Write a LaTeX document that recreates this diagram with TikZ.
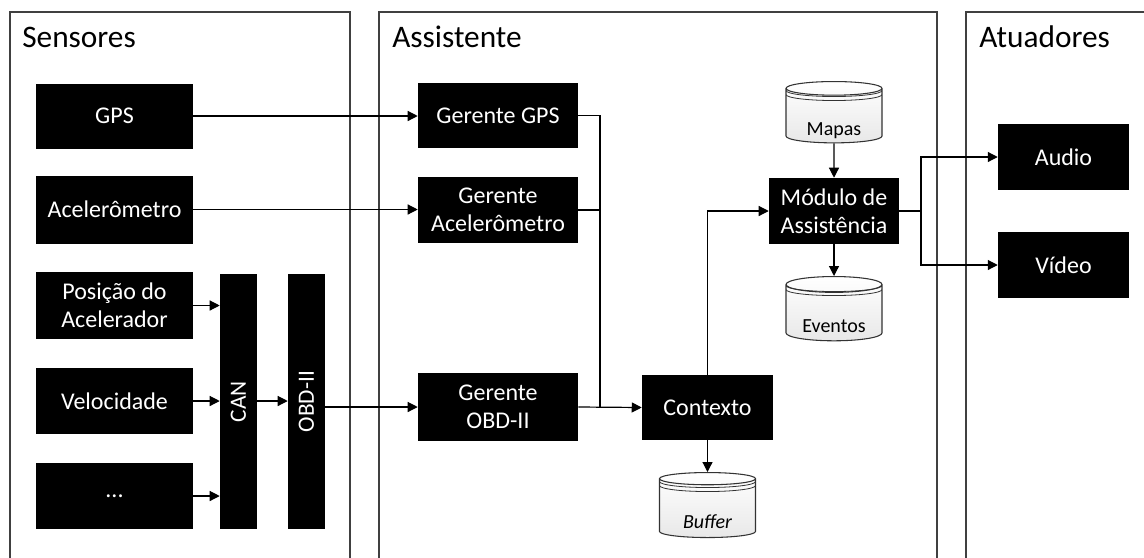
\documentclass[tikz,border=0pt]{standalone}
\usepackage{fontspec}
\setmainfont{Carlito}
\usetikzlibrary{arrows.meta,shapes.geometric}

\begin{document}
\begin{tikzpicture}[x=0.75pt,y=-0.75pt,
	panel/.style={draw=black!75,line width=0.8pt},
	titulo/.style={font=\fontsize{23.5}{28}\selectfont,anchor=base west,inner sep=0pt},
	blk/.style={fill=black,text=white,align=center,inner sep=1pt,font=\fontsize{18}{21}\selectfont},
	db/.style={cylinder,shape border rotate=90,aspect=0.25,draw=black!80,line width=0.8pt,anchor=north,
		top color=white,bottom color=gray!18,minimum width=72pt,minimum height=46pt,inner sep=0pt,
		text height=30pt,text depth=0pt,font=\fontsize{15}{18}\selectfont,
		path picture={
			\draw[line width=0.6pt] ([yshift=-6.75pt]path picture bounding box.north west) arc[start angle=180,end angle=360,x radius=36pt,y radius=4.5pt];
			\draw[line width=0.6pt] ([yshift=-9.75pt]path picture bounding box.north west) arc[start angle=180,end angle=360,x radius=36pt,y radius=4.5pt];
		}},
	arr/.style={-{Triangle[length=7.5pt,width=7.5pt]},line width=0.9pt},
	lig/.style={line width=0.9pt}]
\useasboundingbox (0,0) rectangle (1144,557);
% paineis
\draw[panel] (10,560) -- (10,12) -- (350,12) -- (350,560);
\draw[panel] (379,560) -- (379,12) -- (937,12) -- (937,560);
\draw[panel] (966,560) -- (966,12) -- (1150,12);
\node[titulo] (tsens) at (22,47) {Sensores};
\node[titulo] (tassi) at (392,47) {Assistente};
\node[titulo] (tatua) at (979,47) {Atuadores};
% sensores
\node[blk,minimum width=117.75pt,minimum height=48.75pt] (gps) at (114.5,116) {GPS};
\node[blk,minimum width=117.75pt,minimum height=51pt] (acel) at (114.5,209.5) {Acelerômetro};
\node[blk,minimum width=117.75pt,minimum height=50pt] (posicao) at (114.5,305.5) {Posição do\\Acelerador};
\node[blk,minimum width=117.75pt,minimum height=49.5pt] (veloc) at (114.5,401) {Velocidade};
\node[blk,minimum width=117.75pt,minimum height=49.5pt] (outros) at (114.5,496) {...};
\node[blk,minimum width=27.75pt,minimum height=191.25pt] (can) at (238.5,401.5) {};
\node[text=white,rotate=90,font=\fontsize{17.5}{21}\selectfont,inner sep=0pt] (lcan) at (can.center) {CAN};
\node[blk,minimum width=27.75pt,minimum height=191.25pt] (obd) at (306.5,401.5) {};
\node[text=white,rotate=90,font=\fontsize{17.5}{21}\selectfont,inner sep=0pt] (lobd) at (obd.center) {OBD-II};
% assistente
\node[blk,minimum width=120pt,minimum height=48.75pt] (ggps) at (498,115.5) {Gerente GPS};
\node[blk,minimum width=120pt,minimum height=49.5pt] (gacel) at (498,210) {Gerente\\Acelerômetro};
\node[blk,minimum width=120pt,minimum height=51pt] (gobd) at (498,407) {Gerente\\OBD-II};
\node[blk,minimum width=98.25pt,minimum height=48.75pt] (contexto) at (707.5,407.5) {Contexto};
\node[blk,minimum width=97.5pt,minimum height=49.5pt] (modulo) at (834,211) {Módulo de\\Assistência};
\node[db] (mapas) at (834,81) {Mapas};
\node[db] (eventos) at (834,276) {Eventos};
\node[db,minimum height=48.75pt] (buffer) at (707.5,472) {\itshape Buffer};
% atuadores
\node[blk,minimum width=98.25pt,minimum height=49.5pt] (audio) at (1063.5,157) {Audio};
\node[blk,minimum width=98.25pt,minimum height=49.5pt] (video) at (1063.5,265) {Vídeo};
% ligacoes
\draw[arr] (gps.east) -- (gps.east -| ggps.west);
\draw[arr] (acel.east) -- (acel.east -| gacel.west);
\draw[arr] (posicao.east) -- (posicao.east -| can.west);
\draw[arr] (veloc.east) -- (veloc.east -| can.west);
\draw[arr] (outros.east) -- (outros.east -| can.west);
\draw[arr] (can.east |- veloc.east) -- (obd.west |- veloc.east);
\draw[arr] (obd.east |- gobd.west) -- (gobd.west);
\coordinate (jctx) at (600,407);
\draw[lig] (ggps.east) -| (jctx);
\draw[lig] (gacel.east) -| (jctx);
\draw[arr] (gobd.east) -- (contexto.west);
\draw[arr] (contexto.north) |- (modulo.west);
\draw[arr] (contexto.south) -- (buffer.north);
\draw[arr] (mapas.south) -- (modulo.north);
\draw[arr] (modulo.south) -- (eventos.north);
\coordinate (jmod) at (921,211);
\draw[lig] (modulo.east) -- (jmod);
\draw[arr] (jmod) |- (audio.west);
\draw[arr] (jmod) |- (video.west);
\end{tikzpicture}
\end{document}
